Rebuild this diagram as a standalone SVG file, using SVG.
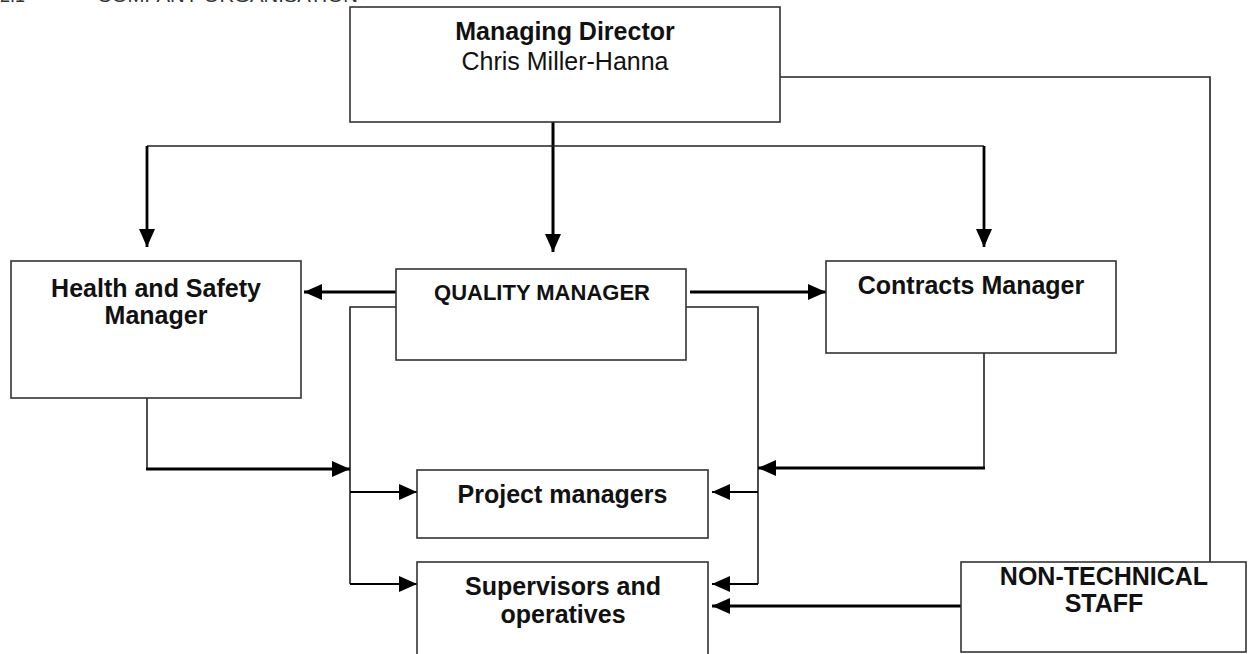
<svg xmlns="http://www.w3.org/2000/svg" width="1250" height="654" viewBox="0 0 1250 654">
  <style>
    .box { fill: #ffffff; stroke: #333333; stroke-width: 1.6; }
    .lbl { font-family: "Liberation Sans", Arial, sans-serif; font-size: 25px; font-weight: bold; fill: #111111; text-anchor: middle; }
    .reg { font-weight: normal; }
    .thin { fill: none; stroke: #222222; stroke-width: 1.6; }
    .thick { fill: none; stroke: #000000; stroke-width: 2.8; }
    .title { font-family: "Liberation Sans", Arial, sans-serif; font-size: 18px; fill: #333333; }
  </style>
  <defs>
    <marker id="arrow" markerUnits="userSpaceOnUse" markerWidth="18" markerHeight="16" refX="18" refY="8" orient="auto">
      <path d="M0,0 L18,8 L0,16 z" fill="#000000"/>
    </marker>
  </defs>
  <rect width="1250" height="654" fill="#ffffff"/>

  <!-- section heading, mostly above the top edge -->
  <text class="title" x="0" y="2">2.1</text>
  <text class="title" x="97" y="2" textLength="261" lengthAdjust="spacingAndGlyphs">COMPANY ORGANISATION</text>

  <g id="connectors">
    <!-- director fan-out -->
    <line class="thick" x1="553" y1="122" x2="553" y2="252" marker-end="url(#arrow)" style="stroke-width:3"/>
    <line class="thin" x1="147" y1="146" x2="984" y2="146"/>
    <line class="thick" x1="147" y1="146" x2="147" y2="247" marker-end="url(#arrow)"/>
    <line class="thick" x1="984" y1="146" x2="984" y2="247" marker-end="url(#arrow)"/>
    <polyline class="thin" points="780,77 1210,77 1210,562"/>

    <!-- quality manager outputs -->
    <line class="thick" x1="396" y1="292" x2="304" y2="292" marker-end="url(#arrow)"/>
    <line class="thick" x1="690" y1="292" x2="826" y2="292" marker-end="url(#arrow)"/>
    <polyline class="thin" points="396,307 350,307 350,584"/>
    <polyline class="thin" points="686,307 758,307 758,584"/>

    <!-- left feeder -->
    <polyline class="thin" points="147,398 147,469"/>
    <line class="thick" x1="146" y1="469" x2="350" y2="469" marker-end="url(#arrow)"/>
    <line class="thick" x1="350" y1="492" x2="417" y2="492" marker-end="url(#arrow)" style="stroke-width:2.2"/>
    <line class="thick" x1="350" y1="584" x2="417" y2="584" marker-end="url(#arrow)" style="stroke-width:2.2"/>

    <!-- right feeder -->
    <polyline class="thin" points="984,353 984,468"/>
    <line class="thick" x1="985" y1="468" x2="758" y2="468" marker-end="url(#arrow)"/>
    <line class="thick" x1="758" y1="492" x2="712" y2="492" marker-end="url(#arrow)" style="stroke-width:2.2"/>
    <line class="thick" x1="758" y1="584" x2="712" y2="584" marker-end="url(#arrow)" style="stroke-width:2.2"/>

    <!-- non-technical staff link -->
    <line class="thick" x1="961" y1="606" x2="712" y2="606" marker-end="url(#arrow)" style="stroke-width:3"/>
  </g>

  <g id="managing-director">
    <rect class="box" x="350" y="7" width="430" height="115"/>
    <text class="lbl" x="565" y="40">Managing Director</text>
    <text class="lbl reg" x="565" y="70">Chris Miller-Hanna</text>
  </g>

  <g id="health-safety">
    <rect class="box" x="11" y="261" width="290" height="137"/>
    <text class="lbl" x="156" y="297">Health and Safety</text>
    <text class="lbl" x="156" y="324">Manager</text>
  </g>

  <g id="quality-manager">
    <rect class="box" x="396" y="269" width="290" height="91"/>
    <text class="lbl" x="542" y="300" style="font-size:22px">QUALITY MANAGER</text>
  </g>

  <g id="contracts-manager">
    <rect class="box" x="826" y="261" width="290" height="92"/>
    <text class="lbl" x="971" y="294">Contracts Manager</text>
  </g>

  <g id="project-managers">
    <rect class="box" x="417" y="470" width="291" height="68"/>
    <text class="lbl" x="562.5" y="503">Project managers</text>
  </g>

  <g id="supervisors">
    <rect class="box" x="417" y="562" width="291" height="100"/>
    <text class="lbl" x="563" y="595">Supervisors and</text>
    <text class="lbl" x="563" y="623">operatives</text>
  </g>

  <g id="non-technical">
    <rect class="box" x="961" y="562" width="285" height="90"/>
    <text class="lbl" x="1104" y="585">NON-TECHNICAL</text>
    <text class="lbl" x="1104" y="612">STAFF</text>
  </g>
</svg>
